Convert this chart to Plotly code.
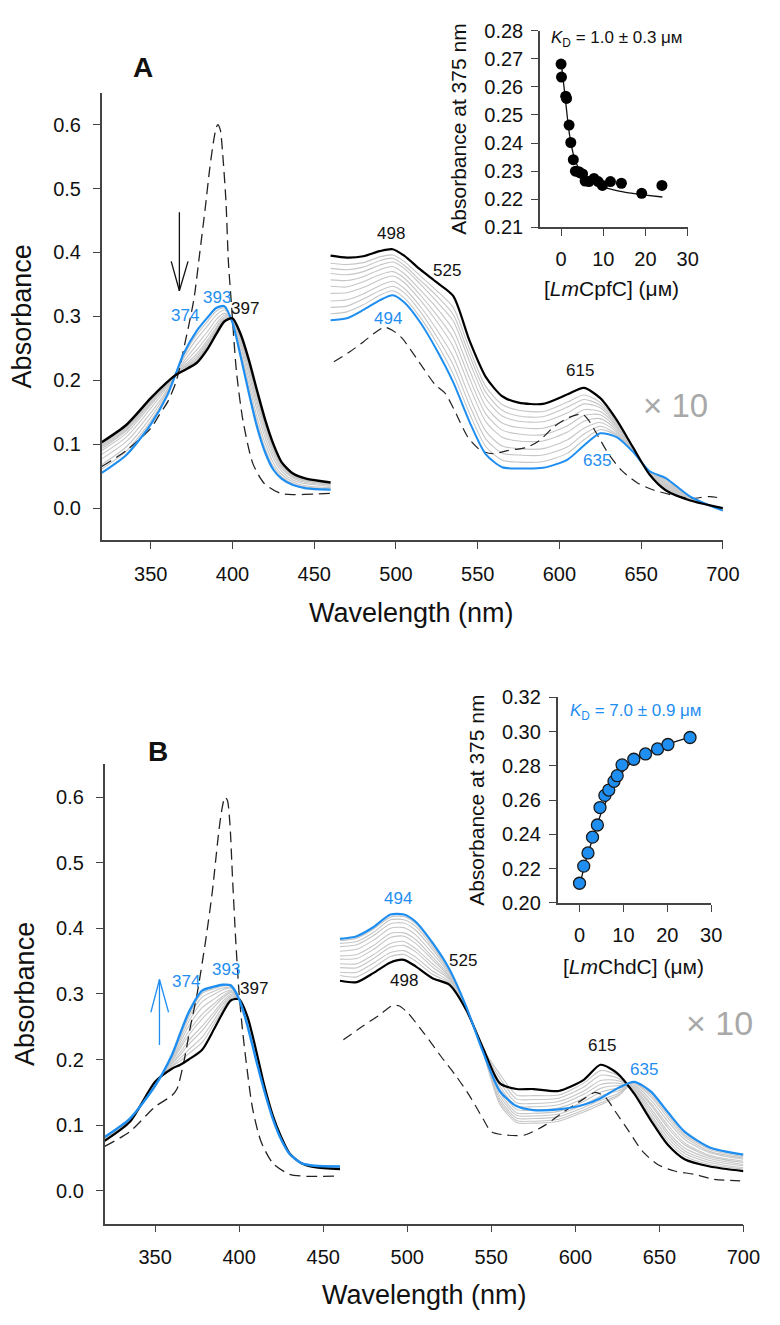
import plotly.graph_objects as go

FONT = "Liberation Sans, Arial, Helvetica, sans-serif"
BLUE = "#1f8ef1"
GRAY = "#c6c6c6"
AXC = "#444444"

# ---------------- wavelength grids ----------------
soret_wl = [320, 335, 350, 360, 365, 370, 378, 385, 390, 395, 400, 405, 410, 415, 420, 425, 430, 437, 445, 460]
vis_wl = [460, 470, 480, 490, 498, 505, 515, 525, 535, 545, 555, 565, 575, 590, 605, 615, 625, 635, 645, 655, 665, 680, 700]

# ---------------- Panel A (LmCpfC titration) ----------------
a_soret_black = [0.103, 0.130, 0.172, 0.197, 0.208, 0.215, 0.227, 0.250, 0.272, 0.292, 0.297, 0.272, 0.232, 0.184, 0.138, 0.100, 0.072, 0.054, 0.046, 0.040]
a_soret_blue = [0.055, 0.083, 0.131, 0.176, 0.208, 0.241, 0.277, 0.299, 0.313, 0.316, 0.290, 0.237, 0.180, 0.127, 0.087, 0.060, 0.046, 0.036, 0.031, 0.029]
# rows = wavelengths (soret_wl), columns = intermediate spectra
a_soret_gray_table = [
    [0.061, 0.068, 0.077, 0.084, 0.090, 0.093, 0.096, 0.098, 0.100],
    [0.089, 0.096, 0.104, 0.111, 0.117, 0.121, 0.123, 0.125, 0.127],
    [0.136, 0.142, 0.149, 0.156, 0.161, 0.164, 0.166, 0.168, 0.170],
    [0.179, 0.182, 0.185, 0.189, 0.191, 0.193, 0.194, 0.195, 0.196],
    [0.208, 0.208, 0.209, 0.208, 0.208, 0.209, 0.208, 0.208, 0.208],
    [0.238, 0.234, 0.229, 0.225, 0.222, 0.220, 0.219, 0.218, 0.217],
    [0.271, 0.264, 0.255, 0.247, 0.241, 0.237, 0.234, 0.232, 0.230],
    [0.293, 0.286, 0.277, 0.270, 0.264, 0.260, 0.257, 0.255, 0.253],
    [0.308, 0.302, 0.295, 0.288, 0.283, 0.280, 0.278, 0.276, 0.274],
    [0.313, 0.310, 0.305, 0.302, 0.299, 0.297, 0.295, 0.294, 0.293],
    [0.291, 0.292, 0.293, 0.294, 0.295, 0.296, 0.296, 0.296, 0.297],
    [0.241, 0.246, 0.253, 0.258, 0.262, 0.265, 0.267, 0.269, 0.270],
    [0.186, 0.194, 0.203, 0.211, 0.217, 0.222, 0.225, 0.227, 0.229],
    [0.134, 0.142, 0.153, 0.161, 0.168, 0.173, 0.176, 0.178, 0.181],
    [0.093, 0.101, 0.110, 0.118, 0.124, 0.128, 0.131, 0.133, 0.135],
    [0.065, 0.071, 0.078, 0.084, 0.089, 0.092, 0.094, 0.096, 0.098],
    [0.049, 0.053, 0.058, 0.062, 0.065, 0.067, 0.068, 0.069, 0.070],
    [0.038, 0.041, 0.044, 0.047, 0.049, 0.050, 0.051, 0.052, 0.053],
    [0.033, 0.035, 0.038, 0.040, 0.042, 0.043, 0.044, 0.045, 0.045],
    [0.030, 0.032, 0.034, 0.036, 0.037, 0.038, 0.038, 0.039, 0.039],
]
a_dash_soret_wl = [320, 335, 350, 355.5, 360.5, 365.5, 371.5, 376.4, 380, 383.4, 386, 388.4, 390, 391, 392.5, 394, 396, 397.5, 399.4, 402.4, 406.4, 412.4, 419.3, 429.3, 437.3, 450, 460]
a_dash_soret = [0.065, 0.090, 0.125, 0.147, 0.167, 0.198, 0.265, 0.327, 0.400, 0.471, 0.530, 0.574, 0.595, 0.600, 0.592, 0.554, 0.480, 0.385, 0.317, 0.214, 0.137, 0.070, 0.039, 0.023, 0.021, 0.022, 0.023]

a_vis_black = [0.395, 0.392, 0.394, 0.402, 0.405, 0.395, 0.373, 0.353, 0.332, 0.262, 0.205, 0.175, 0.165, 0.163, 0.178, 0.188, 0.172, 0.138, 0.095, 0.053, 0.028, 0.012, 0.000]
a_vis_blue = [0.294, 0.297, 0.310, 0.325, 0.333, 0.322, 0.290, 0.247, 0.197, 0.135, 0.084, 0.064, 0.062, 0.063, 0.076, 0.098, 0.117, 0.111, 0.088, 0.058, 0.047, 0.018, -0.004]
a_vis_gray_table = [
    [0.304, 0.314, 0.324, 0.336, 0.347, 0.357, 0.367, 0.375, 0.383],
    [0.307, 0.316, 0.326, 0.337, 0.346, 0.356, 0.365, 0.373, 0.381],
    [0.318, 0.327, 0.335, 0.345, 0.354, 0.362, 0.370, 0.377, 0.384],
    [0.333, 0.340, 0.348, 0.357, 0.365, 0.373, 0.380, 0.387, 0.393],
    [0.340, 0.347, 0.355, 0.363, 0.370, 0.378, 0.385, 0.391, 0.396],
    [0.329, 0.337, 0.344, 0.353, 0.360, 0.367, 0.375, 0.380, 0.386],
    [0.298, 0.307, 0.315, 0.325, 0.333, 0.341, 0.350, 0.356, 0.363],
    [0.258, 0.268, 0.279, 0.292, 0.302, 0.313, 0.323, 0.332, 0.340],
    [0.210, 0.224, 0.237, 0.253, 0.266, 0.279, 0.293, 0.303, 0.314],
    [0.148, 0.161, 0.174, 0.190, 0.203, 0.216, 0.229, 0.239, 0.249],
    [0.096, 0.108, 0.120, 0.135, 0.147, 0.159, 0.171, 0.181, 0.190],
    [0.075, 0.086, 0.097, 0.111, 0.122, 0.133, 0.144, 0.153, 0.162],
    [0.072, 0.083, 0.093, 0.105, 0.116, 0.126, 0.136, 0.144, 0.153],
    [0.073, 0.083, 0.093, 0.105, 0.115, 0.125, 0.135, 0.143, 0.151],
    [0.086, 0.096, 0.107, 0.119, 0.129, 0.139, 0.149, 0.158, 0.166],
    [0.107, 0.116, 0.125, 0.136, 0.145, 0.154, 0.163, 0.170, 0.177],
    [0.123, 0.128, 0.134, 0.140, 0.146, 0.151, 0.157, 0.161, 0.165],
    [0.114, 0.116, 0.119, 0.122, 0.125, 0.128, 0.130, 0.133, 0.135],
    [0.089, 0.089, 0.090, 0.091, 0.092, 0.092, 0.093, 0.094, 0.094],
    [0.058, 0.057, 0.057, 0.056, 0.055, 0.055, 0.054, 0.054, 0.054],
    [0.045, 0.043, 0.041, 0.039, 0.037, 0.035, 0.033, 0.032, 0.030],
    [0.017, 0.017, 0.016, 0.015, 0.015, 0.014, 0.014, 0.013, 0.013],
    [-0.004, -0.003, -0.003, -0.002, -0.002, -0.002, -0.001, -0.001, 0.000],
]
a_dash_vis_wl = [462, 472, 480, 488, 493, 498, 504, 514, 524, 530, 536, 544, 552, 560, 568, 580, 588, 596, 606, 614, 618, 624, 630, 638, 648, 658, 668, 680, 692, 700]
a_dash_vis = [0.229, 0.245, 0.260, 0.276, 0.283, 0.278, 0.265, 0.229, 0.193, 0.180, 0.152, 0.111, 0.090, 0.085, 0.090, 0.095, 0.106, 0.126, 0.142, 0.147, 0.137, 0.111, 0.085, 0.059, 0.039, 0.028, 0.021, 0.015, 0.018, 0.015]

# inset A: absorbance at 375 nm vs [LmCpfC]
a_conc = [0.0, 0.1, 1.1, 1.3, 1.9, 2.3, 2.9, 3.4, 4.2, 4.5, 5.1, 5.7, 6.6, 7.8, 8.8, 9.8, 11.7, 14.3, 19.1, 23.9]
a_abs375 = [0.2681, 0.2635, 0.2567, 0.2559, 0.2464, 0.2402, 0.2341, 0.2300, 0.2298, 0.2294, 0.2290, 0.2265, 0.2263, 0.2274, 0.2263, 0.2249, 0.2263, 0.2257, 0.2221, 0.2249]
a_fit_conc = [0.0, 0.5, 1.0, 1.5, 2.0, 3.0, 4.0, 5.0, 6.0, 8.0, 10.0, 12.0, 15.0, 20.0, 24.0]
a_fit_abs = [0.2690, 0.2625, 0.2560, 0.2490, 0.2430, 0.2355, 0.2315, 0.2290, 0.2275, 0.2255, 0.2243, 0.2235, 0.2225, 0.2215, 0.2208]

# ---------------- Panel B (LmChdC titration) ----------------
b_soret_black = [0.076, 0.105, 0.166, 0.186, 0.192, 0.200, 0.215, 0.246, 0.270, 0.290, 0.292, 0.265, 0.215, 0.160, 0.115, 0.082, 0.057, 0.042, 0.036, 0.033]
b_soret_blue = [0.082, 0.110, 0.160, 0.207, 0.240, 0.272, 0.305, 0.311, 0.314, 0.313, 0.292, 0.251, 0.200, 0.152, 0.110, 0.078, 0.056, 0.042, 0.038, 0.037]
b_soret_gray_table = [
    [0.077, 0.077, 0.078, 0.078, 0.079, 0.080, 0.080, 0.081, 0.081, 0.082],
    [0.106, 0.106, 0.107, 0.107, 0.108, 0.108, 0.109, 0.109, 0.109, 0.110],
    [0.165, 0.165, 0.164, 0.164, 0.163, 0.162, 0.162, 0.161, 0.161, 0.160],
    [0.189, 0.190, 0.193, 0.194, 0.197, 0.199, 0.201, 0.203, 0.205, 0.206],
    [0.198, 0.202, 0.207, 0.211, 0.217, 0.221, 0.226, 0.231, 0.235, 0.238],
    [0.209, 0.215, 0.223, 0.229, 0.237, 0.243, 0.251, 0.258, 0.264, 0.268],
    [0.226, 0.234, 0.244, 0.251, 0.262, 0.269, 0.279, 0.288, 0.295, 0.301],
    [0.254, 0.260, 0.267, 0.272, 0.280, 0.285, 0.292, 0.299, 0.304, 0.308],
    [0.275, 0.279, 0.284, 0.288, 0.293, 0.296, 0.301, 0.306, 0.309, 0.312],
    [0.293, 0.295, 0.297, 0.299, 0.302, 0.304, 0.306, 0.309, 0.310, 0.312],
    [0.292, 0.292, 0.292, 0.292, 0.292, 0.292, 0.292, 0.292, 0.292, 0.292],
    [0.263, 0.262, 0.261, 0.259, 0.258, 0.257, 0.255, 0.254, 0.253, 0.252],
    [0.213, 0.212, 0.210, 0.209, 0.207, 0.206, 0.204, 0.203, 0.202, 0.201],
    [0.159, 0.158, 0.157, 0.157, 0.156, 0.155, 0.154, 0.154, 0.153, 0.152],
    [0.114, 0.114, 0.113, 0.113, 0.112, 0.112, 0.111, 0.111, 0.111, 0.110],
    [0.082, 0.081, 0.081, 0.081, 0.080, 0.080, 0.079, 0.079, 0.078, 0.078],
    [0.057, 0.057, 0.057, 0.057, 0.056, 0.056, 0.056, 0.056, 0.056, 0.056],
    [0.042, 0.042, 0.042, 0.042, 0.042, 0.042, 0.042, 0.042, 0.042, 0.042],
    [0.036, 0.036, 0.037, 0.037, 0.037, 0.037, 0.037, 0.038, 0.038, 0.038],
    [0.033, 0.034, 0.034, 0.035, 0.035, 0.035, 0.036, 0.036, 0.037, 0.037],
]
b_dash_soret_wl = [320, 335, 350, 360, 363, 367, 371, 375, 380, 384, 388, 390, 391.5, 393, 394.5, 396, 398, 400, 402, 404, 408, 413, 420, 430, 440, 460]
b_dash_soret = [0.0675, 0.090, 0.128, 0.145, 0.155, 0.195, 0.250, 0.300, 0.380, 0.455, 0.550, 0.585, 0.600, 0.595, 0.560, 0.480, 0.380, 0.300, 0.245, 0.200, 0.125, 0.075, 0.042, 0.025, 0.022, 0.0225]

b_vis_black = [0.320, 0.318, 0.332, 0.348, 0.352, 0.342, 0.324, 0.314, 0.276, 0.218, 0.164, 0.155, 0.155, 0.152, 0.169, 0.192, 0.179, 0.148, 0.107, 0.070, 0.048, 0.037, 0.030]
b_vis_blue = [0.384, 0.388, 0.402, 0.421, 0.421, 0.410, 0.378, 0.338, 0.281, 0.212, 0.152, 0.129, 0.123, 0.124, 0.131, 0.141, 0.156, 0.166, 0.151, 0.120, 0.090, 0.066, 0.055]
b_vis_gray_table = [
    [0.328, 0.333, 0.340, 0.346, 0.353, 0.358, 0.365, 0.372, 0.377, 0.381],
    [0.326, 0.333, 0.340, 0.346, 0.354, 0.360, 0.368, 0.375, 0.380, 0.385],
    [0.340, 0.347, 0.354, 0.360, 0.368, 0.374, 0.382, 0.389, 0.394, 0.399],
    [0.357, 0.363, 0.371, 0.377, 0.386, 0.392, 0.400, 0.407, 0.413, 0.417],
    [0.360, 0.366, 0.374, 0.380, 0.388, 0.393, 0.401, 0.408, 0.413, 0.418],
    [0.350, 0.356, 0.364, 0.369, 0.377, 0.383, 0.390, 0.397, 0.403, 0.407],
    [0.330, 0.335, 0.341, 0.346, 0.352, 0.356, 0.362, 0.368, 0.372, 0.375],
    [0.317, 0.319, 0.322, 0.324, 0.326, 0.328, 0.331, 0.333, 0.335, 0.337],
    [0.277, 0.277, 0.278, 0.278, 0.279, 0.279, 0.280, 0.280, 0.280, 0.281],
    [0.217, 0.217, 0.216, 0.216, 0.215, 0.214, 0.214, 0.213, 0.213, 0.212],
    [0.178, 0.172, 0.166, 0.160, 0.155, 0.150, 0.145, 0.140, 0.136, 0.132],
    [0.146, 0.140, 0.134, 0.129, 0.124, 0.119, 0.115, 0.111, 0.107, 0.104],
    [0.145, 0.139, 0.133, 0.128, 0.123, 0.118, 0.114, 0.110, 0.106, 0.103],
    [0.146, 0.141, 0.136, 0.131, 0.126, 0.121, 0.117, 0.113, 0.109, 0.106],
    [0.164, 0.158, 0.152, 0.147, 0.141, 0.136, 0.131, 0.127, 0.123, 0.120],
    [0.183, 0.176, 0.168, 0.162, 0.156, 0.150, 0.144, 0.138, 0.134, 0.131],
    [0.176, 0.172, 0.168, 0.164, 0.160, 0.156, 0.152, 0.148, 0.145, 0.143],
    [0.150, 0.152, 0.154, 0.155, 0.157, 0.159, 0.161, 0.163, 0.164, 0.165],
    [0.112, 0.116, 0.121, 0.125, 0.130, 0.133, 0.138, 0.143, 0.146, 0.149],
    [0.076, 0.081, 0.086, 0.090, 0.096, 0.100, 0.106, 0.111, 0.115, 0.118],
    [0.053, 0.057, 0.061, 0.065, 0.070, 0.073, 0.078, 0.082, 0.085, 0.088],
    [0.040, 0.043, 0.046, 0.049, 0.052, 0.054, 0.058, 0.060, 0.063, 0.065],
    [0.033, 0.035, 0.038, 0.040, 0.043, 0.045, 0.048, 0.050, 0.052, 0.054],
]
b_dash_vis_wl = [462, 473, 483, 491, 495, 500, 510, 520, 529, 537, 545, 550, 558, 570, 582, 593, 605, 612, 618, 624, 632, 640, 649, 659, 671, 682, 700]
b_dash_vis = [0.230, 0.250, 0.267, 0.282, 0.282, 0.272, 0.240, 0.205, 0.175, 0.145, 0.110, 0.090, 0.085, 0.085, 0.100, 0.120, 0.140, 0.150, 0.142, 0.120, 0.090, 0.060, 0.040, 0.030, 0.025, 0.0175, 0.015]

# inset B: absorbance at 375 nm vs [LmChdC]
b_conc = [0.0, 0.96, 1.93, 2.96, 4.07, 4.67, 5.78, 6.67, 7.85, 8.59, 9.70, 12.37, 15.04, 17.78, 20.15, 25.19]
b_abs375 = [0.2115, 0.2215, 0.2292, 0.2384, 0.2455, 0.2557, 0.2628, 0.2659, 0.2710, 0.2743, 0.2806, 0.2839, 0.2870, 0.2899, 0.2925, 0.2966]
b_fit_conc = [0.0, 1.0, 2.0, 3.0, 4.0, 5.0, 6.0, 7.0, 8.0, 9.0, 10.0, 12.0, 15.0, 18.0, 20.0, 25.0]
b_fit_abs = [0.2095, 0.2205, 0.2295, 0.2375, 0.2455, 0.2530, 0.2590, 0.2650, 0.2695, 0.2735, 0.2770, 0.2825, 0.2870, 0.2905, 0.2925, 0.2966]

# ---------------- figure ----------------
fig = go.Figure()


def line(x, y, xa, ya, color, width, dash=None, smooth=True):
    fig.add_trace(go.Scatter(
        x=x, y=y, mode="lines", xaxis=xa, yaxis=ya, showlegend=False, hoverinfo="skip",
        line=dict(color=color, width=width, dash=dash,
                  shape="spline" if smooth else "linear", smoothing=0.7)))


def columns(table):
    return [list(col) for col in zip(*table)]


# Panel A spectra
for g in columns(a_soret_gray_table):
    line(soret_wl, g, "x", "y", GRAY, 1.1)
for g in columns(a_vis_gray_table):
    line(vis_wl, g, "x", "y", GRAY, 1.1)
line(a_dash_soret_wl, a_dash_soret, "x", "y", "#222222", 1.3, "11px,6px")
line(a_dash_vis_wl, a_dash_vis, "x", "y", "#222222", 1.2, "10px,6px")
line(soret_wl, a_soret_blue, "x", "y", BLUE, 2.2)
line(vis_wl, a_vis_blue, "x", "y", BLUE, 2.0)
line(soret_wl, a_soret_black, "x", "y", "#000000", 2.4)
line(vis_wl, a_vis_black, "x", "y", "#000000", 2.2)

# Inset A
line(a_fit_conc, a_fit_abs, "x2", "y2", "#111111", 1.3)
fig.add_trace(go.Scatter(x=a_conc, y=a_abs375, mode="markers", xaxis="x2", yaxis="y2",
                         showlegend=False, hoverinfo="skip",
                         marker=dict(size=11, color="#000000", line=dict(width=0))))

# Panel B spectra
for g in columns(b_soret_gray_table):
    line(soret_wl, g, "x3", "y3", GRAY, 1.1)
for g in columns(b_vis_gray_table):
    line(vis_wl, g, "x3", "y3", GRAY, 1.1)
line(b_dash_soret_wl, b_dash_soret, "x3", "y3", "#222222", 1.3, "11px,6px")
line(b_dash_vis_wl, b_dash_vis, "x3", "y3", "#222222", 1.2, "10px,6px")
line(soret_wl, b_soret_black, "x3", "y3", "#000000", 2.2)
line(vis_wl, b_vis_black, "x3", "y3", "#000000", 2.2)
line(soret_wl, b_soret_blue, "x3", "y3", BLUE, 2.4)
line(vis_wl, b_vis_blue, "x3", "y3", BLUE, 2.2)

# Inset B
line(b_fit_conc, b_fit_abs, "x4", "y4", "#111111", 1.3)
fig.add_trace(go.Scatter(x=b_conc, y=b_abs375, mode="markers", xaxis="x4", yaxis="y4",
                         showlegend=False, hoverinfo="skip",
                         marker=dict(size=12, color=BLUE, line=dict(width=1.3, color="#1a1a1a"))))

W, H = 780, 1325


def px_x(p):
    return p / W


def px_y(p):
    return 1 - p / H


tickfont = dict(family=FONT, size=20, color="#111111")
ax_common = dict(showline=True, linecolor=AXC, linewidth=1.5, ticks="outside", ticklen=7,
                 tickwidth=1.3, tickcolor=AXC, showgrid=False, zeroline=False,
                 tickfont=tickfont, mirror=False)

main_x = dict(range=[320, 700], tickvals=[350, 400, 450, 500, 550, 600, 650, 700],
              ticklabelstandoff=8, **ax_common)
main_y = dict(range=[-0.05, 0.65], tickvals=[0, 0.1, 0.2, 0.3, 0.4, 0.5, 0.6],
              tickformat=".1f", ticklabelstandoff=8,
              title=dict(text="Absorbance", font=dict(family=FONT, size=27, color="#111111"),
                         standoff=14),
              **ax_common)
inset_title = dict(text="Absorbance at 375 nm", font=dict(family=FONT, size=21, color="#111111"),
                   standoff=12)

fig.update_layout(
    width=W, height=H, margin=dict(l=0, r=0, t=0, b=0),
    paper_bgcolor="white", plot_bgcolor="rgba(0,0,0,0)",
    font=dict(family=FONT, color="#111111"),
    xaxis=dict(domain=[px_x(104), px_x(739)], anchor="y", **main_x),
    yaxis=dict(domain=[px_y(538), px_y(83)], anchor="x", **main_y),
    xaxis2=dict(domain=[px_x(552), px_x(703)], anchor="y2", range=[-5, 30],
                tickvals=[0, 10, 20, 30], ticklabelstandoff=6, **ax_common),
    yaxis2=dict(domain=[px_y(220), px_y(20)], anchor="x2", range=[0.21, 0.28],
                tickvals=[0.21, 0.22, 0.23, 0.24, 0.25, 0.26, 0.27, 0.28], tickformat=".2f",
                ticklabelstandoff=4, title=inset_title, **ax_common),
    xaxis3=dict(domain=[px_x(107), px_x(760)], anchor="y3", **main_x),
    yaxis3=dict(domain=[px_y(1233), px_y(766)], anchor="x3", **main_y),
    xaxis4=dict(domain=[px_x(570), px_x(727)], anchor="y4", range=[-5, 30],
                tickvals=[0, 10, 20, 30], ticklabelstandoff=6, **ax_common),
    yaxis4=dict(domain=[px_y(907), px_y(698)], anchor="x4", range=[0.20, 0.32],
                tickvals=[0.20, 0.22, 0.24, 0.26, 0.28, 0.30, 0.32], tickformat=".2f",
                ticklabelstandoff=4, title=inset_title, **ax_common),
)

ann = []


def text(x, y, s, size, color="#111111", xref="paper", yref="paper", xanchor="center",
         yanchor="middle", angle=0):
    ann.append(dict(x=x, y=y, xref=xref, yref=yref, text=s, showarrow=False,
                    font=dict(family=FONT, size=size, color=color), xanchor=xanchor,
                    yanchor=yanchor, textangle=angle))


MU_M = "μᴍ"

# panel letters
text(px_x(146), px_y(57), "<b>A</b>", 28)
text(px_x(162), px_y(753), "<b>B</b>", 28)

# main x axis titles
text(px_x(421), px_y(612), "Wavelength (nm)", 27)
text(px_x(434), px_y(1306), "Wavelength (nm)", 27)

# inset x titles
text(px_x(625), px_y(282), "[<i>Lm</i>CpfC] (" + MU_M + ")", 21)
text(px_x(648), px_y(972), "[<i>Lm</i>ChdC] (" + MU_M + ")", 21)

# KD labels
text(px_x(561), px_y(28), "<i>K</i><sub>D</sub> = 1.0 ± 0.3 " + MU_M, 17, xanchor="left")
text(px_x(581), px_y(713), "<i>K</i><sub>D</sub> = 7.0 ± 0.9 " + MU_M, 17, color=BLUE, xanchor="left")

# peak labels panel A (data coordinates)
text(371, 0.301, "374", 17, BLUE, "x", "y")
text(390.6, 0.329, "393", 17, BLUE, "x", "y")
text(407.4, 0.312, "397", 17, "#111111", "x", "y")
text(497, 0.430, "498", 17, "#111111", "x", "y")
text(531, 0.371, "525", 17, "#111111", "x", "y")
text(495, 0.296, "494", 17, BLUE, "x", "y")
text(612.8, 0.216, "615", 17, "#111111", "x", "y")
text(622.8, 0.075, "635", 17, BLUE, "x", "y")
text(670.7, 0.160, "× 10", 33, "#a8a8a8", "x", "y")

# peak labels panel B
text(368.3, 0.319, "374", 17, BLUE, "x3", "y3")
text(392.0, 0.337, "393", 17, BLUE, "x3", "y3")
text(408.6, 0.309, "397", 17, "#111111", "x3", "y3")
text(494.4, 0.445, "494", 17, BLUE, "x3", "y3")
text(533.2, 0.351, "525", 17, "#111111", "x3", "y3")
text(498.3, 0.320, "498", 17, "#111111", "x3", "y3")
text(615.6, 0.222, "615", 17, "#111111", "x3", "y3")
text(640.8, 0.185, "635", 17, BLUE, "x3", "y3")
text(685.5, 0.255, "× 10", 34, "#a8a8a8", "x3", "y3")

fig.update_layout(annotations=ann)

# open arrows (titration direction)
shapes = []


def seg(x0, y0, x1, y1, xref, yref, color, width=1.3):
    shapes.append(dict(type="line", x0=x0, y0=y0, x1=x1, y1=y1, xref=xref, yref=yref,
                       line=dict(color=color, width=width)))


seg(367.5, 0.463, 367.5, 0.340, "x", "y", "#111111")
seg(362.5, 0.386, 367.5, 0.340, "x", "y", "#111111")
seg(372.8, 0.386, 367.5, 0.340, "x", "y", "#111111")

seg(352.6, 0.222, 352.6, 0.322, "x3", "y3", BLUE)
seg(347.5, 0.272, 352.6, 0.322, "x3", "y3", BLUE)
seg(358.0, 0.272, 352.6, 0.322, "x3", "y3", BLUE)

fig.update_layout(shapes=shapes)

fig.write_html("out.html", config={"displayModeBar": False},
               post_script="document.body.style.margin='0';document.body.style.overflow='hidden';")
